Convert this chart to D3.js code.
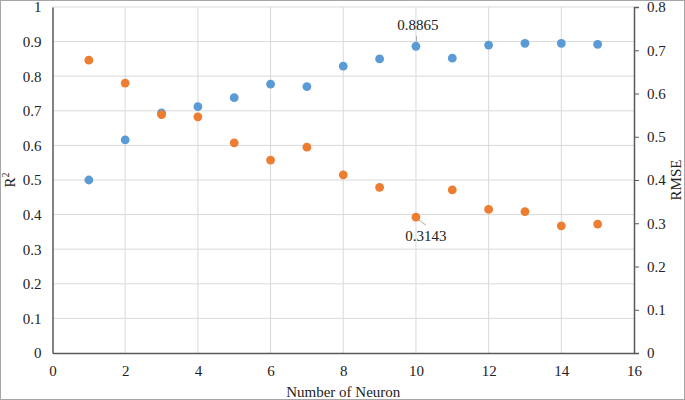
<!DOCTYPE html>
<html><head><meta charset="utf-8">
<script src="https://cdn.jsdelivr.net/npm/d3@7"></script>
<style>body{margin:0;background:#fff}svg{display:block}
svg text{font-family:"Liberation Serif","Times New Roman","DejaVu Serif",serif !important;}</style>
</head><body>
<script>
const neurons = [1,2,3,4,5,6,7,8,9,10,11,12,13,14,15];
const r2 = [0.500,0.616,0.694,0.712,0.738,0.777,0.770,0.829,0.850,0.8865,0.852,0.890,0.895,0.895,0.892];
const rmse = [0.677,0.624,0.551,0.546,0.486,0.446,0.476,0.412,0.383,0.3143,0.377,0.332,0.327,0.294,0.298];
const xTicks = [0,2,4,6,8,10,12,14,16];
const leftTicks = [0,0.1,0.2,0.3,0.4,0.5,0.6,0.7,0.8,0.9,1];
const rightTicks = [0,0.1,0.2,0.3,0.4,0.5,0.6,0.7,0.8];

const W=685,H=400;
const m={l:52.5,r:634,t:7,b:353};
const FS=15;
const svg=d3.select("body").append("svg").attr("width",W).attr("height",H);
svg.append("rect").attr("x",0.5).attr("y",0.5).attr("width",W-1).attr("height",H-1)
  .attr("fill","#fff").attr("stroke","#a6a6a6");

const x=d3.scaleLinear().domain([0,16]).range([m.l,m.r]);
const yL=d3.scaleLinear().domain([0,1]).range([m.b,m.t]);
const yR=d3.scaleLinear().domain([0,0.8]).range([m.b,m.t]);

// grid
svg.append("g").selectAll("line").data(leftTicks.slice(1)).join("line")
  .attr("x1",m.l).attr("x2",m.r).attr("y1",d=>yL(d)).attr("y2",d=>yL(d))
  .attr("stroke","#d9d9d9").attr("stroke-width",1);
svg.append("g").selectAll("line").data(xTicks.slice(1,-1)).join("line")
  .attr("x1",d=>x(d)).attr("x2",d=>x(d)).attr("y1",m.t).attr("y2",m.b)
  .attr("stroke","#d9d9d9").attr("stroke-width",1);

// axes
const ax=svg.append("g").attr("transform",`translate(0,${m.b})`)
  .call(d3.axisBottom(x).tickValues(xTicks).tickSize(0).tickPadding(12).tickFormat(d3.format("d")));
const al=svg.append("g").attr("transform",`translate(${m.l},0)`)
  .call(d3.axisLeft(yL).tickValues(leftTicks).tickSize(0).tickPadding(11).tickFormat(d=>d===0||d===1?d3.format("d")(d):d3.format(".1f")(d)));
const ar=svg.append("g").attr("transform",`translate(${m.r},0)`)
  .call(d3.axisRight(yR).tickValues(rightTicks).tickSize(5).tickPadding(8).tickFormat(d=>d===0?"0":d3.format(".1f")(d)));
[ax,al,ar].forEach(g=>{
  g.attr("font-family","Liberation Serif").attr("font-size",FS);
  g.selectAll("text").attr("fill","#222");
  g.select(".domain").attr("stroke","#595959").attr("stroke-width",1.5);
  g.selectAll(".tick line").attr("stroke","#595959");
});

// points
svg.append("g").selectAll("circle").data(neurons).join("circle")
  .attr("cx",(d)=>x(d)).attr("cy",(d,i)=>yL(r2[i])).attr("r",4.4).attr("fill","#5B9BD5");
svg.append("g").selectAll("circle").data(neurons).join("circle")
  .attr("cx",(d)=>x(d)).attr("cy",(d,i)=>yR(rmse[i])).attr("r",4.4).attr("fill","#ED7D31");

// labels
const i10=neurons.indexOf(10);
svg.append("line").attr("x1",x(10)+0.5).attr("x2",x(10)+0.5).attr("y1",yL(r2[i10])-5).attr("y2",yL(r2[i10])-10)
  .attr("stroke","#a6a6a6");
svg.append("text").attr("x",x(10)+2).attr("y",yL(r2[i10])-16).attr("text-anchor","middle")
  .attr("font-size",FS).attr("fill","#222").text(r2[i10].toFixed(4));
svg.append("line").attr("x1",x(10)+3).attr("y1",yR(rmse[i10])+3).attr("x2",x(10)+10).attr("y2",yR(rmse[i10])+8)
  .attr("stroke","#a6a6a6");
svg.append("text").attr("x",x(10)+10).attr("y",yR(rmse[i10])+24).attr("text-anchor","middle")
  .attr("font-size",FS).attr("fill","#222").text(rmse[i10].toFixed(4));

// titles
svg.append("text").attr("x",(m.l+m.r)/2).attr("y",397).attr("text-anchor","middle")
  .attr("font-size",FS).attr("fill","#222").text("Number of Neuron");
const lt=svg.append("text").attr("transform",`translate(15,180) rotate(-90)`).attr("text-anchor","middle")
  .attr("font-size",FS).attr("fill","#222");
lt.append("tspan").text("R");
lt.append("tspan").attr("font-size",10).attr("dy",-6).text("2");
svg.append("text").attr("transform",`translate(681,180) rotate(-90)`).attr("text-anchor","middle")
  .attr("font-size",FS).attr("fill","#222").text("RMSE");
</script>
</body></html>
